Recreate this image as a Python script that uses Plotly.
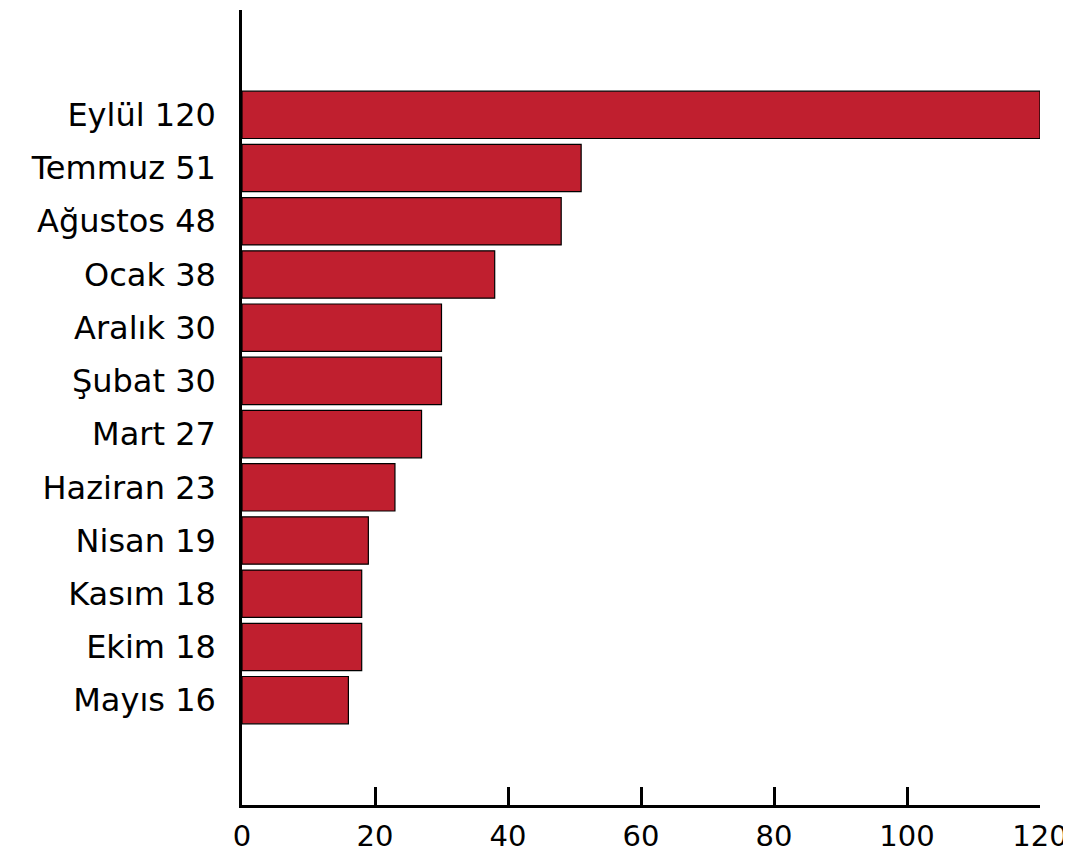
import plotly.graph_objects as go

months = ["Eylül", "Temmuz", "Ağustos", "Ocak", "Aralık", "Şubat", "Mart",
          "Haziran", "Nisan", "Kasım", "Ekim", "Mayıs"]
values = [120, 51, 48, 38, 30, 30, 27, 23, 19, 18, 18, 16]
labels = [f"{m} {v}" for m, v in zip(months, values)]
x_ticks = [0, 20, 40, 60, 80, 100, 120]

# plot bottom-to-top so Eylül ends up on top
y_pos = list(range(len(values)))[::-1]

fig = go.Figure(go.Bar(
    x=values, y=y_pos, orientation="h",
    width=0.89,
    marker=dict(color="#C01F2F", line=dict(color="#000000", width=1.2)),
))

# page body has an 8px margin, so the figure is sized/offset to compensate
fig.update_layout(
    width=1063, height=849,
    margin=dict(l=234, r=31, t=2, b=52, autoexpand=False),
    plot_bgcolor="white", paper_bgcolor="white",
    showlegend=False,
    xaxis=dict(
        range=[0, 120], tickvals=x_ticks, ticktext=[str(t) for t in x_ticks],
        showgrid=False, zeroline=False, automargin=False,
        showline=True, linecolor="black", linewidth=2.5,
        ticks="inside", ticklen=18, tickwidth=2.5, tickcolor="black",
        ticklabelstandoff=3,
        tickfont=dict(family="DejaVu Sans", size=29, color="black"),
    ),
    yaxis=dict(
        range=[-1.97, 12.97], tickvals=y_pos, ticktext=labels,
        showgrid=False, zeroline=False, automargin=False,
        showline=True, linecolor="black", linewidth=2.5,
        ticks="", ticklabelstandoff=17,
        tickfont=dict(family="DejaVu Sans", size=32, color="black"),
    ),
)

fig.write_html("out.html")
